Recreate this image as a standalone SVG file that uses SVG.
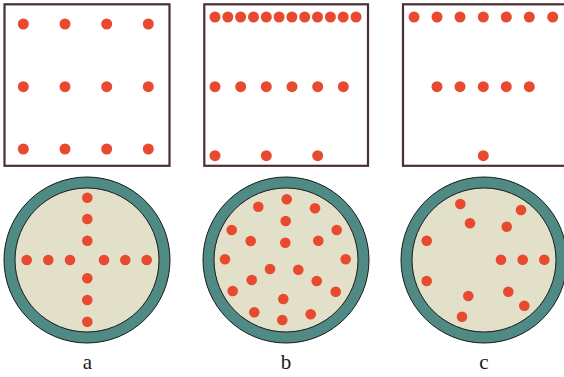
<svg xmlns="http://www.w3.org/2000/svg" width="564" height="377" viewBox="0 0 564 377">
<defs>
<style>
.box{fill:#ffffff;stroke:#4a2f36;stroke-width:2.2}
.ring{fill:#4f8a84;stroke:#1a1a1a;stroke-width:1}
.core{fill:#e3e0ca;stroke:#1a1a1a;stroke-width:1}
.dot{fill:#e84a30}
.lbl{font-family:"Liberation Serif","Times New Roman",serif;font-size:21px;fill:#1a1a1a;text-anchor:middle}
</style>
<circle id="d" r="5.5" class="dot"/>
<circle id="s" r="5.3" class="dot"/>
</defs>
<rect width="564" height="377" fill="#ffffff"/>

<g id="box-a">
<rect class="box" x="4.5" y="4.3" width="165" height="161.5"/>
<use href="#d" x="23.3" y="24"/><use href="#d" x="65" y="24"/><use href="#d" x="106.7" y="24"/><use href="#d" x="148.3" y="24"/>
<use href="#d" x="23.3" y="86.7"/><use href="#d" x="65" y="86.7"/><use href="#d" x="106.7" y="86.7"/><use href="#d" x="148.3" y="86.7"/>
<use href="#d" x="23.3" y="149"/><use href="#d" x="65" y="149"/><use href="#d" x="106.7" y="149"/><use href="#d" x="148.3" y="149"/>
</g>

<g id="box-b">
<rect class="box" x="204.3" y="4.3" width="163.7" height="161.5"/>
<use href="#d" x="215" y="17"/><use href="#d" x="227.8" y="17"/><use href="#d" x="240.6" y="17"/><use href="#d" x="253.5" y="17"/>
<use href="#d" x="266.3" y="17"/><use href="#d" x="279.1" y="17"/><use href="#d" x="291.9" y="17"/><use href="#d" x="304.7" y="17"/>
<use href="#d" x="317.5" y="17"/><use href="#d" x="330.4" y="17"/><use href="#d" x="343.2" y="17"/><use href="#d" x="356" y="17"/>
<use href="#d" x="215" y="86.7"/><use href="#d" x="240.7" y="86.7"/><use href="#d" x="266.3" y="86.7"/><use href="#d" x="292" y="86.7"/><use href="#d" x="317.7" y="86.7"/><use href="#d" x="343.3" y="86.7"/>
<use href="#d" x="215" y="155.7"/><use href="#d" x="266.3" y="155.7"/><use href="#d" x="317.7" y="155.7"/>
</g>

<g id="box-c">
<rect class="box" x="403" y="4.3" width="165" height="161.5"/>
<use href="#d" x="414" y="17"/><use href="#d" x="437" y="17"/><use href="#d" x="460" y="17"/><use href="#d" x="483.3" y="17"/><use href="#d" x="506.3" y="17"/><use href="#d" x="529.3" y="17"/><use href="#d" x="552.7" y="17"/>
<use href="#d" x="437" y="86.7"/><use href="#d" x="460" y="86.7"/><use href="#d" x="483.3" y="86.7"/><use href="#d" x="506.3" y="86.7"/><use href="#d" x="529.3" y="86.7"/>
<use href="#d" x="483.3" y="155.7"/>
</g>

<g id="cell-a">
<circle class="ring" cx="87" cy="260" r="83"/>
<circle class="core" cx="87" cy="260" r="72"/>
<use href="#s" x="87.3" y="197.7"/><use href="#s" x="87.3" y="219"/><use href="#s" x="87.3" y="240.7"/>
<use href="#s" x="87.3" y="278.3"/><use href="#s" x="87.3" y="300"/><use href="#s" x="87.3" y="321.7"/>
<use href="#s" x="26.7" y="260"/><use href="#s" x="48.3" y="260"/><use href="#s" x="70" y="260"/>
<use href="#s" x="104" y="260"/><use href="#s" x="125.3" y="260"/><use href="#s" x="146.7" y="260"/>
</g>

<g id="cell-b">
<circle class="ring" cx="286" cy="260" r="83"/>
<circle class="core" cx="286" cy="260" r="72"/>
<use href="#s" x="258.3" y="206.7"/><use href="#s" x="286.7" y="199.3"/><use href="#s" x="315" y="208.3"/>
<use href="#s" x="285.7" y="221"/><use href="#s" x="231.7" y="230"/><use href="#s" x="336.7" y="230"/>
<use href="#s" x="250.7" y="241"/><use href="#s" x="285.3" y="242.7"/><use href="#s" x="318.3" y="240.7"/>
<use href="#s" x="225" y="259.3"/><use href="#s" x="345.7" y="259.3"/><use href="#s" x="270" y="269"/>
<use href="#s" x="298.3" y="269.7"/><use href="#s" x="251.7" y="280"/><use href="#s" x="316.7" y="281"/>
<use href="#s" x="232.7" y="291"/><use href="#s" x="335.7" y="291.7"/><use href="#s" x="283.3" y="299"/>
<use href="#s" x="254.3" y="312.3"/><use href="#s" x="282.3" y="320"/><use href="#s" x="310.7" y="314.3"/>
</g>

<g id="cell-c">
<circle class="ring" cx="484" cy="260" r="83"/>
<circle class="core" cx="484" cy="260" r="72"/>
<use href="#s" x="460.3" y="204"/><use href="#s" x="521" y="210"/><use href="#s" x="470" y="223.3"/>
<use href="#s" x="506.7" y="226.7"/><use href="#s" x="426.7" y="240.7"/><use href="#s" x="501" y="259.7"/>
<use href="#s" x="522.7" y="259.7"/><use href="#s" x="544.3" y="259.7"/><use href="#s" x="426.7" y="281"/>
<use href="#s" x="508.3" y="291.7"/><use href="#s" x="468.3" y="296"/><use href="#s" x="524.3" y="305.7"/>
<use href="#s" x="462" y="316.7"/>
</g>

<g id="labels">
<text class="lbl" x="87.5" y="369">a</text>
<text class="lbl" x="286" y="369">b</text>
<text class="lbl" x="484" y="369">c</text>
</g>
</svg>
